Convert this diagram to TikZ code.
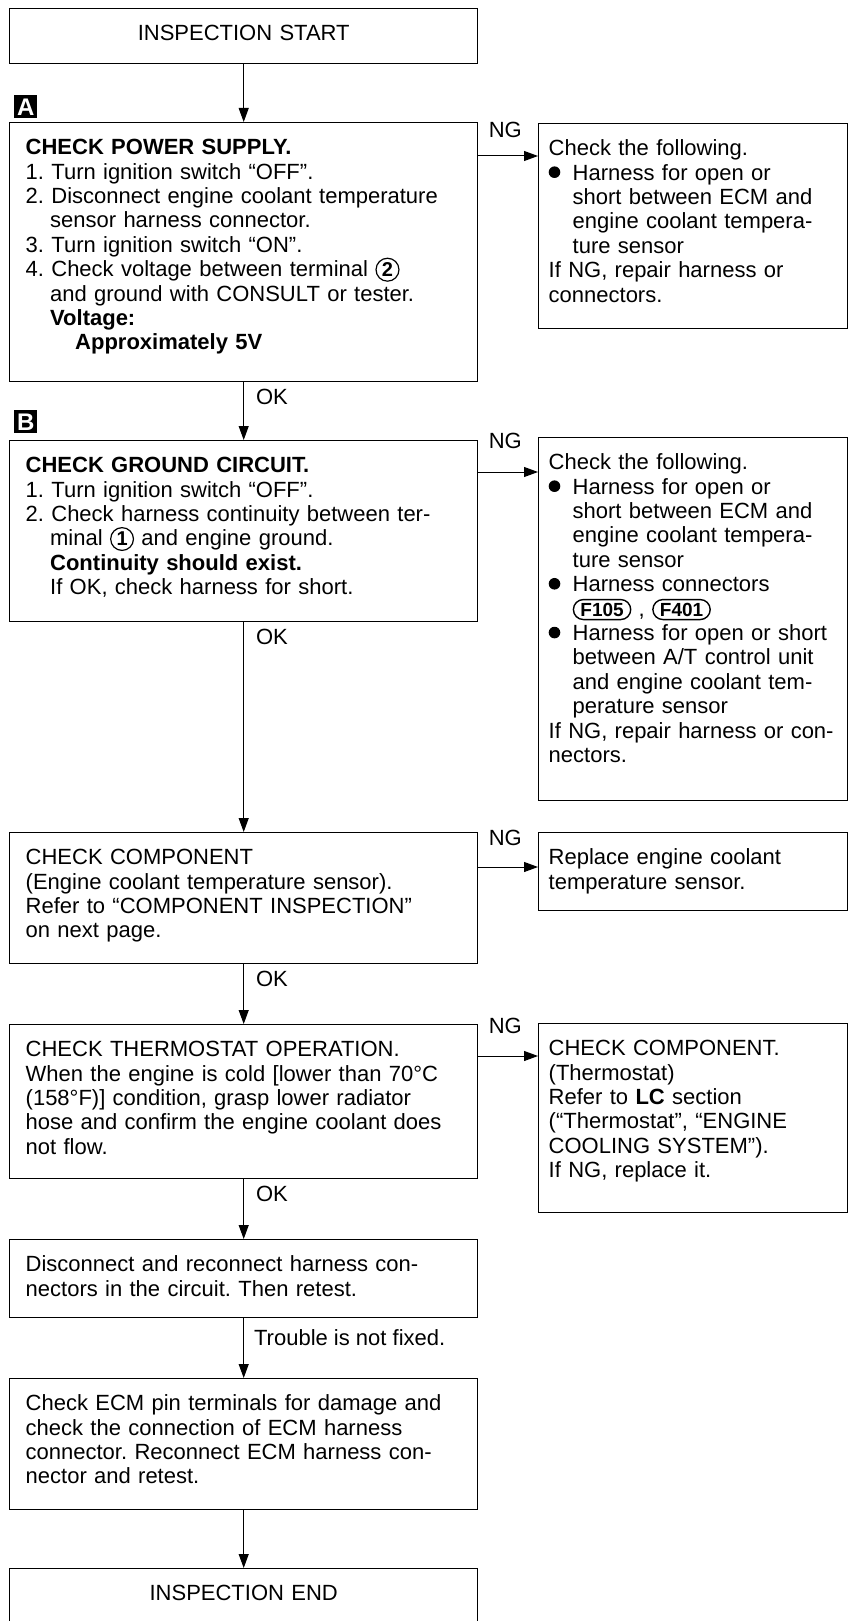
\documentclass[tikz,border=0pt]{standalone}
\usepackage{fontspec}
\setmainfont{Liberation Sans}
\usetikzlibrary{arrows.meta}
\frenchspacing
\newcommand{\mainsize}{\fontsize{11}{12.2}\selectfont}
\newcommand{\numind}{\hspace*{1.112em}}
\newcommand{\subind}{\hspace*{12pt}}
\newcommand{\blt}{\makebox[12pt][l]{\tikz[baseline]\fill (3pt,0.36em) circle (2.9pt);}}
\newcommand{\termno}[1]{\tikz[baseline=(tn.base)]\node[draw,circle,line width=0.6pt,inner sep=0.9pt,text width=,text height=,text depth=,align=center,font=\bfseries\fontsize{10}{10}\selectfont] (tn) {#1};}
\newcommand{\connbox}[1]{\tikz[baseline=(cn.base)]\node[draw,rounded corners=5pt,line width=0.7pt,inner xsep=3.5pt,inner ysep=1pt,minimum height=10pt,text width=,text height=,text depth=,align=center,font=\bfseries\fontsize{9.5}{9.5}\selectfont] (cn) {#1};}
\tikzset{
  stepbox/.style={draw,line width=0.7pt,anchor=north west,align=left,inner xsep=8pt,inner ysep=8pt,
    text width=218pt,text height=8pt,font=\mainsize},
  fixbox/.style={stepbox,inner xsep=5pt,text width=144.5pt},
  flow/.style={line width=0.5pt,-{Triangle[length=7pt,width=5pt]}},
  lbl/.style={inner sep=0pt,anchor=base west,font=\mainsize},
  tag/.style={fill=black,text=white,anchor=north west,inner sep=0pt,minimum width=11.5pt,minimum height=11.5pt,
    font=\bfseries\fontsize{12}{12}\selectfont}
}
\begin{document}
\begin{tikzpicture}[x=0.5pt,y=-0.5pt]
\useasboundingbox (0,0) rectangle (849,1621);

\node[stepbox,align=center,text depth=3.5pt] (start) at (9,8) {INSPECTION START};

\node[tag] (tagA) at (14,95) {A};
\node[stepbox,text depth=105.5pt] (chkA) at (9,122)
{\textbf{CHECK POWER SUPPLY.}\\
1. Turn ignition switch “OFF”.\\
2. Disconnect engine coolant temperature\\
\numind sensor harness connector.\\
3. Turn ignition switch “ON”.\\
4. Check voltage between terminal \termno{2}\\
\numind and ground with CONSULT or tester.\\
\numind\textbf{Voltage:}\\
\hspace*{2.25em}\textbf{Approximately 5V}};
\node[fixbox,text depth=78.5pt] (fixA) at (538,123)
{Check the following.\\
\blt Harness for open or\\
\subind short between ECM and\\
\subind engine coolant tempera-\\
\subind ture sensor\\
If NG, repair harness or\\
connectors.};

\node[tag] (tagB) at (14,410) {B};
\node[stepbox,text depth=66.5pt] (chkB) at (9,440)
{\textbf{CHECK GROUND CIRCUIT.}\\
1. Turn ignition switch “OFF”.\\
2. Check harness continuity between ter-\\
\numind minal \termno{1} and engine ground.\\
\numind\textbf{Continuity should exist.}\\
\numind If OK, check harness for short.};
\node[fixbox,text depth=157.5pt] (fixB) at (538,437)
{Check the following.\\
\blt Harness for open or\\
\subind short between ECM and\\
\subind engine coolant tempera-\\
\subind ture sensor\\
\blt Harness connectors\\
\subind\connbox{F105} , \connbox{F401}\\
\blt Harness for open or short\\
\subind between A/T control unit\\
\subind and engine coolant tem-\\
\subind perature sensor\\
If NG, repair harness or con-\\
nectors.};

\node[stepbox,text depth=41.5pt] (chkC) at (9,832)
{CHECK COMPONENT\\
(Engine coolant temperature sensor).\\
Refer to “COMPONENT INSPECTION”\\
on next page.};
\node[fixbox,text depth=15pt] (fixC) at (538,832)
{Replace engine coolant\\
temperature sensor.};

\node[stepbox,text depth=53pt] (chkD) at (9,1024)
{CHECK THERMOSTAT OPERATION.\\
When the engine is cold [lower than 70°C\\
(158°F)] condition, grasp lower radiator\\
hose and confirm the engine coolant does\\
not flow.};
\node[fixbox,text depth=70.5pt] (fixD) at (538,1023)
{CHECK COMPONENT.\\
(Thermostat)\\
Refer to \textbf{LC} section\\
(“Thermostat”, “ENGINE\\
COOLING SYSTEM”).\\
If NG, replace it.};

\node[stepbox,text depth=15pt] (chkE) at (9,1239)
{Disconnect and reconnect harness con-\\
nectors in the circuit. Then retest.};

\node[stepbox,text depth=41.5pt] (chkF) at (9,1378)
{Check ECM pin terminals for damage and\\
check the connection of ECM harness\\
connector. Reconnect ECM harness con-\\
nector and retest.};

\node[stepbox,align=center,text depth=3.5pt] (finish) at (9,1568) {INSPECTION END};

\draw[flow] (start) -- (chkA);
\draw[flow] (chkA) -- (chkB);
\draw[flow] (chkB) -- (chkC);
\draw[flow] (chkC) -- (chkD);
\draw[flow] (chkD) -- (chkE);
\draw[flow] (chkE) -- (chkF);
\draw[flow] (chkF) -- (finish);

\node[lbl] (okA) at ([shift={(12,22)}]chkA.south) {OK};
\node[lbl] (okB) at ([shift={(12,22)}]chkB.south) {OK};
\node[lbl] (okC) at ([shift={(12,22)}]chkC.south) {OK};
\node[lbl] (okD) at ([shift={(12,22)}]chkD.south) {OK};
\node[lbl] (notfixed) at ([shift={(10,27)}]chkE.south) {Trouble is not fixed.};

\path (chkA.north east) ++(0,34) coordinate (ngA);
\path (chkB.north east) ++(0,32) coordinate (ngB);
\path (chkC.north east) ++(0,35) coordinate (ngC);
\path (chkD.north east) ++(0,32) coordinate (ngD);
\draw[flow] (ngA) -- (ngA -| fixA.west);
\draw[flow] (ngB) -- (ngB -| fixB.west);
\draw[flow] (ngC) -- (ngC -| fixC.west);
\draw[flow] (ngD) -- (ngD -| fixD.west);
\node[lbl] (ngAl) at ([shift={(10,-18)}]ngA) {NG};
\node[lbl] (ngBl) at ([shift={(10,-24)}]ngB) {NG};
\node[lbl] (ngCl) at ([shift={(10,-22)}]ngC) {NG};
\node[lbl] (ngDl) at ([shift={(10,-23)}]ngD) {NG};
\end{tikzpicture}
\end{document}
